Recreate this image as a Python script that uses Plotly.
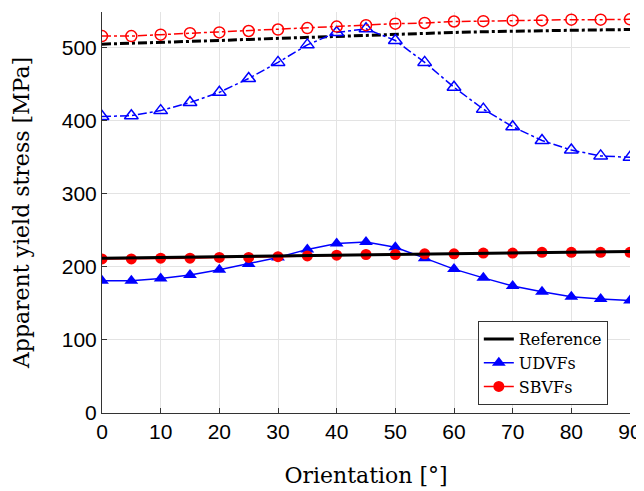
import plotly.graph_objects as go

orientation = [0, 5, 10, 15, 20, 25, 30, 35, 40, 45, 50, 55, 60, 65, 70, 75, 80, 85, 90]

ref_low = [212, 212.5, 213, 213.5, 214, 214.5, 215, 215.5, 216, 216.5, 217, 217.5, 218, 218.5, 219, 219.5, 220, 220.5, 221]
udvf_low = [181, 181, 184, 189, 196, 204, 213, 224, 232, 234, 227, 212, 197, 185, 174, 166, 159, 156, 154]
sbvf_low = [211, 211, 212, 212, 213, 213, 214, 215, 216, 217, 217, 218, 218, 219, 219, 220, 220, 220, 220]

ref_high = [505, 506, 507, 508.5, 510, 511.5, 513, 514.5, 516, 517.5, 519, 520, 521, 522, 523, 523.5, 524, 524.5, 525]
udvf_high = [406, 407, 414, 425, 439, 458, 480, 504, 521, 526, 510, 480, 446, 416, 392, 373, 360, 352, 350]
sbvf_high = [516, 516, 518, 520, 521, 523, 525, 527, 529, 531, 533, 534, 536, 536.5, 537.5, 537.5, 538.5, 538.5, 539]

BLUE = "#0000ff"
RED = "#ff0000"
SERIF = "DejaVu Serif"
SANS = "Liberation Sans"

fig = go.Figure()

# upper group (dash-dot, hollow markers)
fig.add_trace(go.Scatter(x=orientation, y=ref_high, mode="lines",
                         line=dict(color="black", width=3, dash="dashdot"), showlegend=False))
fig.add_trace(go.Scatter(x=orientation, y=udvf_high, mode="lines+markers",
                         line=dict(color=BLUE, width=1.5, dash="dashdot"),
                         marker=dict(symbol="triangle-up-open", size=12, color=BLUE, line=dict(width=1.5)),
                         showlegend=False))
fig.add_trace(go.Scatter(x=orientation, y=sbvf_high, mode="lines+markers",
                         line=dict(color=RED, width=1.5, dash="dashdot"),
                         marker=dict(symbol="circle-open", size=11, color=RED, line=dict(width=1.5)),
                         showlegend=False))

# lower group (solid, filled markers); Reference drawn last (on top) but listed first in legend
fig.add_trace(go.Scatter(x=orientation, y=udvf_low, mode="lines+markers", name="UDVFs",
                         legendrank=2,
                         line=dict(color=BLUE, width=1.5),
                         marker=dict(symbol="triangle-up", size=12, color=BLUE)))
fig.add_trace(go.Scatter(x=orientation, y=sbvf_low, mode="lines+markers", name="SBVFs",
                         legendrank=3,
                         line=dict(color=RED, width=1.5),
                         marker=dict(symbol="circle", size=11, color=RED)))
fig.add_trace(go.Scatter(x=orientation, y=ref_low, mode="lines", name="Reference",
                         legendrank=1,
                         line=dict(color="black", width=3)))

# page body has an 8px default margin, so the figure is drawn at (8, 8)
fig.update_layout(
    width=636, height=483,
    margin=dict(l=94, r=14, t=4, b=78, autoexpand=False),
    plot_bgcolor="white", paper_bgcolor="white",
    showlegend=True,
    legend=dict(x=0.958, y=0.02, xanchor="right", yanchor="bottom",
                bordercolor="#333333", borderwidth=1, bgcolor="white",
                font=dict(family=SERIF, size=16, color="black"),
                itemwidth=30, tracegroupgap=0),
    font=dict(family=SANS, size=21, color="black"),
)

fig.update_xaxes(range=[0, 90], dtick=10, tick0=0, automargin=False,
                 ticklabeloverflow="allow",
                 showgrid=True, gridcolor="#e3e3e3", gridwidth=1,
                 showline=True, linecolor="#333333", linewidth=1,
                 ticks="inside", ticklen=5, tickcolor="#333333",
                 zeroline=False,
                 title=dict(text="Orientation [°]", font=dict(family=SERIF, size=22), standoff=25),
                 tickfont=dict(family=SANS, size=21))
fig.update_yaxes(range=[0, 549], dtick=100, tick0=0, automargin=False,
                 ticklabeloverflow="allow",
                 showgrid=True, gridcolor="#e3e3e3", gridwidth=1,
                 showline=True, linecolor="#333333", linewidth=1,
                 ticks="inside", ticklen=5, tickcolor="#333333",
                 zeroline=False,
                 title=dict(text="Apparent yield stress [MPa]", font=dict(family=SERIF, size=22), standoff=26),
                 tickfont=dict(family=SANS, size=21))

fig.write_html("out.html")
